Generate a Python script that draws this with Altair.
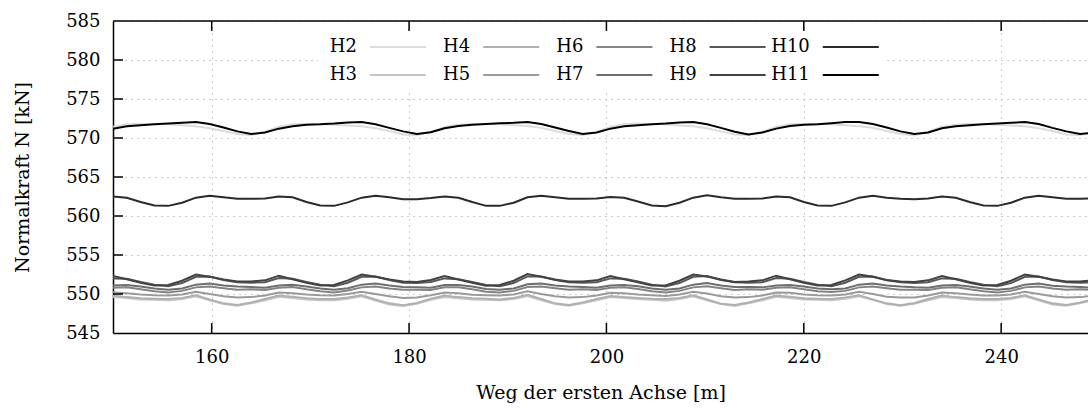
import altair as alt
import pandas as pd

# Sampling positions along the track [m]
weg = [round(150 + 1.4 * i, 1) for i in range(72)]

# Normal force per hanger [kN]
h2 = [571.45, 571.75, 571.8, 571.8, 571.75, 571.65, 571.5, 571.25, 570.9, 570.5,
      570.4, 570.8, 571.45, 571.75, 571.8, 571.8, 571.7, 571.6, 571.5, 571.25, 570.9, 570.45,
      570.35, 570.8, 571.4, 571.7, 571.8, 571.8, 571.75, 571.65, 571.55, 571.3, 570.9, 570.5,
      570.4, 570.75, 571.45, 571.75, 571.85, 571.8, 571.75, 571.6, 571.5, 571.25, 570.85, 570.45,
      570.4, 570.8, 571.4, 571.75, 571.8, 571.8, 571.75, 571.65, 571.5, 571.3, 570.9, 570.5,
      570.35, 570.8, 571.45, 571.7, 571.8, 571.8, 571.7, 571.6, 571.5, 571.25, 570.9, 570.45,
      570.4, 570.8]
h3 = [549.6, 549.5, 549.3, 549.25, 549.2, 549.35, 549.7, 549.2, 548.7, 548.5,
      548.8, 549.2, 549.65, 549.5, 549.3, 549.2, 549.2, 549.4, 549.7, 549.15, 548.65, 548.45,
      548.75, 549.25, 549.6, 549.45, 549.3, 549.25, 549.2, 549.35, 549.75, 549.2, 548.7, 548.5,
      548.8, 549.2, 549.6, 549.5, 549.35, 549.25, 549.15, 549.35, 549.7, 549.2, 548.7, 548.45,
      548.8, 549.2, 549.65, 549.5, 549.3, 549.25, 549.2, 549.4, 549.7, 549.25, 548.7, 548.5,
      548.75, 549.2, 549.6, 549.5, 549.3, 549.2, 549.2, 549.35, 549.7, 549.2, 548.65, 548.5,
      548.8, 549.2]
h4 = [549.8, 549.6, 549.45, 549.4, 549.35, 549.5, 549.85, 549.3, 548.8, 548.6,
      548.9, 549.35, 549.8, 549.65, 549.45, 549.35, 549.35, 549.55, 549.85, 549.3, 548.8, 548.55,
      548.85, 549.4, 549.8, 549.6, 549.45, 549.4, 549.3, 549.5, 549.9, 549.35, 548.8, 548.6,
      548.9, 549.35, 549.75, 549.6, 549.5, 549.4, 549.35, 549.5, 549.85, 549.3, 548.75, 548.6,
      548.9, 549.35, 549.8, 549.65, 549.45, 549.4, 549.35, 549.55, 549.85, 549.3, 548.8, 548.55,
      548.85, 549.35, 549.8, 549.6, 549.45, 549.35, 549.35, 549.5, 549.85, 549.3, 548.8, 548.6,
      548.9, 549.35]
h5 = [550.2, 550.1, 549.95, 549.85, 549.8, 549.95, 550.3, 550.0, 549.7, 549.55,
      549.6, 549.8, 550.2, 550.1, 549.95, 549.85, 549.8, 550.0, 550.3, 550.0, 549.7, 549.5,
      549.55, 549.85, 550.2, 550.1, 549.9, 549.85, 549.8, 549.95, 550.35, 550.0, 549.7, 549.55,
      549.6, 549.8, 550.15, 550.1, 549.95, 549.85, 549.75, 549.95, 550.3, 550.05, 549.7, 549.55,
      549.6, 549.8, 550.2, 550.15, 549.95, 549.85, 549.8, 549.95, 550.3, 550.0, 549.65, 549.55,
      549.55, 549.8, 550.2, 550.1, 549.95, 549.8, 549.8, 549.95, 550.3, 550.0, 549.7, 549.55,
      549.6, 549.8]
h6 = [550.8, 550.85, 550.6, 550.35, 550.2, 550.4, 550.85, 550.95, 550.75, 550.55,
      550.6, 550.5, 550.8, 550.9, 550.6, 550.35, 550.2, 550.45, 550.85, 550.95, 550.7, 550.55,
      550.55, 550.5, 550.85, 550.85, 550.6, 550.3, 550.2, 550.4, 550.9, 550.95, 550.75, 550.55,
      550.6, 550.5, 550.8, 550.85, 550.65, 550.35, 550.2, 550.4, 550.85, 551.0, 550.75, 550.5,
      550.6, 550.55, 550.8, 550.85, 550.6, 550.35, 550.25, 550.4, 550.85, 550.95, 550.75, 550.55,
      550.55, 550.5, 550.8, 550.85, 550.6, 550.35, 550.2, 550.4, 550.85, 550.95, 550.7, 550.55,
      550.6, 550.5]
h7 = [551.1, 551.15, 550.95, 550.7, 550.55, 550.7, 551.2, 551.35, 551.1, 550.95,
      550.9, 550.8, 551.1, 551.2, 550.95, 550.7, 550.55, 550.75, 551.2, 551.35, 551.1, 550.9,
      550.85, 550.8, 551.15, 551.15, 550.95, 550.65, 550.55, 550.7, 551.25, 551.35, 551.1, 550.95,
      550.9, 550.8, 551.1, 551.15, 551.0, 550.7, 550.55, 550.7, 551.2, 551.4, 551.1, 550.9,
      550.9, 550.85, 551.1, 551.15, 550.95, 550.7, 550.6, 550.7, 551.2, 551.35, 551.1, 550.95,
      550.85, 550.8, 551.1, 551.15, 550.95, 550.7, 550.55, 550.7, 551.2, 551.35, 551.05, 550.95,
      550.9, 550.8]
h8 = [552.0, 551.95, 551.55, 551.2, 551.0, 551.4, 552.2, 552.25, 551.8, 551.5,
      551.45, 551.5, 552.05, 551.95, 551.55, 551.2, 551.0, 551.45, 552.2, 552.25, 551.8, 551.45,
      551.4, 551.55, 552.0, 551.9, 551.55, 551.15, 551.0, 551.4, 552.25, 552.25, 551.8, 551.5,
      551.45, 551.5, 552.0, 551.95, 551.6, 551.2, 550.95, 551.4, 552.2, 552.3, 551.8, 551.5,
      551.45, 551.5, 552.05, 551.95, 551.55, 551.2, 551.0, 551.45, 552.2, 552.25, 551.75, 551.5,
      551.4, 551.5, 552.0, 551.95, 551.55, 551.2, 551.0, 551.4, 552.2, 552.25, 551.8, 551.5,
      551.45, 551.5]
h9 = [552.3, 551.9, 551.45, 551.1, 551.15, 551.7, 552.5, 552.2, 551.85, 551.6,
      551.6, 551.75, 552.35, 551.9, 551.45, 551.1, 551.15, 551.75, 552.5, 552.2, 551.85, 551.6,
      551.55, 551.8, 552.3, 551.85, 551.45, 551.05, 551.15, 551.7, 552.55, 552.2, 551.85, 551.6,
      551.6, 551.75, 552.3, 551.9, 551.5, 551.1, 551.1, 551.7, 552.5, 552.25, 551.85, 551.55,
      551.6, 551.75, 552.35, 551.9, 551.45, 551.1, 551.15, 551.75, 552.5, 552.2, 551.8, 551.6,
      551.55, 551.75, 552.3, 551.9, 551.45, 551.1, 551.15, 551.7, 552.5, 552.2, 551.85, 551.6,
      551.6, 551.75]
h10 = [562.5, 562.35, 561.8, 561.35, 561.3, 561.7, 562.35, 562.6, 562.4, 562.2,
       562.2, 562.25, 562.5, 562.4, 561.8, 561.35, 561.3, 561.75, 562.35, 562.6, 562.4, 562.15,
       562.15, 562.3, 562.5, 562.35, 561.8, 561.3, 561.3, 561.7, 562.4, 562.6, 562.4, 562.2,
       562.2, 562.25, 562.45, 562.35, 561.85, 561.35, 561.25, 561.7, 562.35, 562.65, 562.4, 562.2,
       562.2, 562.25, 562.5, 562.4, 561.8, 561.35, 561.3, 561.75, 562.35, 562.6, 562.35, 562.2,
       562.15, 562.25, 562.5, 562.35, 561.8, 561.35, 561.3, 561.7, 562.35, 562.6, 562.4, 562.2,
       562.2, 562.25]
h11 = [571.2, 571.5, 571.65, 571.75, 571.85, 571.95, 572.05, 571.8, 571.35, 570.85,
       570.5, 570.7, 571.2, 571.5, 571.7, 571.75, 571.85, 572.0, 572.05, 571.75, 571.3, 570.85,
       570.5, 570.75, 571.25, 571.55, 571.7, 571.8, 571.9, 571.95, 572.05, 571.8, 571.35, 570.9,
       570.5, 570.7, 571.2, 571.5, 571.65, 571.75, 571.85, 572.0, 572.05, 571.75, 571.3, 570.8,
       570.45, 570.7, 571.2, 571.55, 571.7, 571.75, 571.9, 572.05, 572.05, 571.8, 571.35, 570.85,
       570.5, 570.7, 571.25, 571.5, 571.65, 571.75, 571.85, 571.95, 572.05, 571.8, 571.3, 570.85,
       570.5, 570.7]

names = ["H2", "H3", "H4", "H5", "H6", "H7", "H8", "H9", "H10", "H11"]
values = [h2, h3, h4, h5, h6, h7, h8, h9, h10, h11]
greys = ["#dcdcdc", "#c6c6c6", "#b0b0b0", "#9a9a9a", "#848484",
         "#6e6e6e", "#585858", "#424242", "#2a2a2a", "#000000"]

x_ticks = [160, 180, 200, 220, 240]
y_ticks = [545, 550, 555, 560, 565, 570, 575, 580, 585]

rows = []
for name, vals in zip(names, values):
    for w, v in zip(weg, vals):
        rows.append({"Weg": w, "N": v, "Haenger": name})
df = pd.DataFrame(rows)

W, H = 975, 312
FONT = "DejaVu Serif"
x_scale = alt.Scale(domain=[150, 248.8], nice=False, zero=False)
y_scale = alt.Scale(domain=[545, 585], nice=False, zero=False)
grid_style = dict(grid=True, gridColor="#999999", gridDash=[1, 5], gridWidth=1,
                  domainColor="black", domainWidth=1.5, tickSize=0,
                  labelFont=FONT, labelFontSize=18, labelColor="black",
                  titleFont=FONT, titleFontSize=19, titleColor="black",
                  titleFontWeight="normal")

lines = alt.Chart(df).mark_line(strokeWidth=2, clip=True).encode(
    x=alt.X("Weg:Q", scale=x_scale,
            axis=alt.Axis(values=x_ticks, title="Weg der ersten Achse [m]",
                          labelPadding=15, titleX=W / 2, titleY=59,
                          titleAlign="center", titleBaseline="middle", **grid_style)),
    y=alt.Y("N:Q", scale=y_scale,
            axis=alt.Axis(values=y_ticks, title="Normalkraft N [kN]",
                          labelPadding=13, titleX=-91, titleY=H / 2, titleAngle=-90,
                          titleAlign="center", titleBaseline="middle", **grid_style)),
    color=alt.Color("Haenger:N", scale=alt.Scale(domain=names, range=greys), legend=None),
)

one = pd.DataFrame({"k": [0]})

# opaque key background
key_box = alt.Chart(one).mark_rect(fill="white").encode(
    x=alt.value(205), x2=alt.value(772), y=alt.value(10), y2=alt.value(69))

# inward ticks (left, bottom, mirrored on top) and the top border
yt = pd.DataFrame({"v": y_ticks[1:-1]})
xt = pd.DataFrame({"v": x_ticks})
tick_left = alt.Chart(yt).mark_rule(color="black", strokeWidth=1.5).encode(
    y=alt.Y("v:Q", scale=y_scale, axis=None), x=alt.value(0), x2=alt.value(10))
tick_bottom = alt.Chart(xt).mark_rule(color="black", strokeWidth=1.5).encode(
    x=alt.X("v:Q", scale=x_scale, axis=None), y=alt.value(H - 10), y2=alt.value(H))
tick_top = alt.Chart(xt).mark_rule(color="black", strokeWidth=1.5).encode(
    x=alt.X("v:Q", scale=x_scale, axis=None), y=alt.value(0), y2=alt.value(10))
top_border = alt.Chart(one).mark_rule(color="black", strokeWidth=1.5).encode(
    x=alt.value(0), x2=alt.value(W), y=alt.value(0))

# key: label followed by a line sample, two rows by five columns
key_rows = []
for idx, (name, col) in enumerate(zip(names, greys)):
    c, r = idx // 2, idx % 2
    tx = 244 + 113.2 * c
    ty = 26 + 28 * r
    key_rows.append({"name": name, "col": col, "tx": tx, "ty": ty,
                     "lx": tx + 13, "lx2": tx + 69})
key_df = pd.DataFrame(key_rows)
key_text = alt.Chart(key_df).mark_text(align="right", baseline="middle", font=FONT,
                                       fontSize=18, color="black").encode(
    x=alt.X("tx:Q", scale=None, axis=None), y=alt.Y("ty:Q", scale=None, axis=None),
    text="name:N")
key_line = alt.Chart(key_df).mark_rule(strokeWidth=2).encode(
    x=alt.X("lx:Q", scale=None, axis=None), x2="lx2:Q",
    y=alt.Y("ty:Q", scale=None, axis=None),
    color=alt.Color("col:N", scale=None, legend=None))

chart = alt.layer(
    lines, key_box, tick_left, tick_bottom, tick_top, top_border, key_text, key_line
).resolve_scale(
    x="independent", y="independent", color="independent"
).properties(
    width=W, height=H,
    autosize=alt.AutoSizeParams(type="none"),
    padding={"left": 113, "top": 21, "right": 0, "bottom": 81},
    background="white",
).configure_view(stroke=None)

chart.save("out.html", embed_options={"renderer": "svg", "actions": False})
